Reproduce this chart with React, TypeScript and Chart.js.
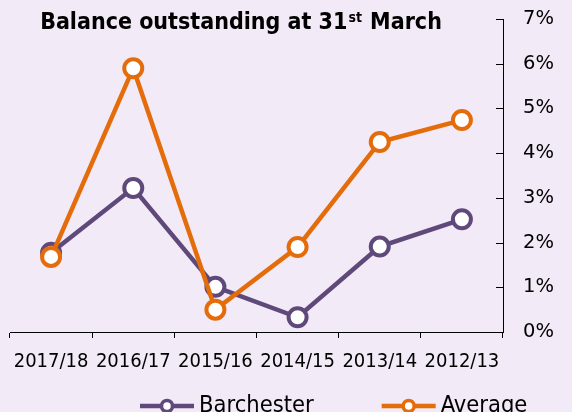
import React, { useEffect, useRef } from "react";
import { Chart, registerables } from "chart.js";

Chart.register(...registerables);

const categories = ["2017/18", "2016/17", "2015/16", "2014/15", "2013/14", "2012/13"];
const barchester = [1.77, 3.22, 1.01, 0.33, 1.91, 2.52];
const average = [1.68, 5.9, 0.5, 1.9, 4.25, 4.74];
const seriesNames = ["Barchester", "Average"];
const yMin = 0;
const yMax = 7;
const yStep = 1;
const titleMain = "Balance outstanding at 31";
const titleSup = "st";
const titleEnd = " March";

const PURPLE = "#5f497a";
const ORANGE = "#e46c0a";
const BG = "#f2eaf6";
const FONT = "'DejaVu Sans Condensed', 'DejaVu Sans', sans-serif";
const FONT_Y = "'DejaVu Sans', sans-serif";

const bgPlugin = {
  id: "bgFill",
  beforeDraw(chart: any) {
    const { ctx, width, height } = chart;
    ctx.save();
    ctx.fillStyle = BG;
    ctx.fillRect(0, 0, width, height);
    ctx.restore();
  },
};

const innerTicksPlugin = {
  id: "innerTicks",
  afterDraw(chart: any) {
    const y = chart.scales.y;
    const { ctx } = chart;
    ctx.save();
    ctx.strokeStyle = "#000";
    ctx.lineWidth = 1;
    y.ticks.forEach((t: any) => {
      const py = Math.round(y.getPixelForValue(t.value)) + 0.5;
      ctx.beginPath();
      ctx.moveTo(y.left - 7, py);
      ctx.lineTo(y.left, py);
      ctx.stroke();
    });
    ctx.restore();
  },
};

const titlePlugin = {
  id: "customTitle",
  afterDraw(chart: any) {
    const { ctx } = chart;
    ctx.save();
    const mainFont = `bold 23px ${FONT}`;
    const supFont = `bold 14px ${FONT}`;
    ctx.font = mainFont;
    const w1 = ctx.measureText(titleMain).width;
    const w3 = ctx.measureText(titleEnd).width;
    ctx.font = supFont;
    const w2 = ctx.measureText(titleSup).width + 1;
    const total = w1 + w2 + w3;
    const cx = 240.5;
    let x = cx - total / 2;
    const baseline = 29;
    ctx.fillStyle = "#000";
    ctx.textBaseline = "alphabetic";
    ctx.textAlign = "left";
    ctx.font = mainFont;
    ctx.fillText(titleMain, x, baseline);
    x += w1 + 1;
    ctx.font = supFont;
    ctx.fillText(titleSup, x, baseline - 7);
    x += w2;
    ctx.font = mainFont;
    ctx.fillText(titleEnd, x, baseline);
    ctx.restore();
  },
};

const legendPlugin = {
  id: "customLegend",
  afterDraw(chart: any) {
    const { ctx } = chart;
    const ds = chart.data.datasets;
    const order = [1, 0]; // Barchester first, then Average
    ctx.save();
    ctx.font = `23.5px ${FONT}`;
    ctx.textBaseline = "middle";
    ctx.textAlign = "left";
    const y = 406;
    let x = 140;
    const lineLen = 54;
    order.forEach((i) => {
      const d = ds[i];
      ctx.strokeStyle = d.borderColor;
      ctx.lineWidth = 4.5;
      ctx.beginPath();
      ctx.moveTo(x, y);
      ctx.lineTo(x + lineLen, y);
      ctx.stroke();
      ctx.beginPath();
      ctx.arc(x + lineLen / 2, y, 5.5, 0, Math.PI * 2);
      ctx.fillStyle = "#fff";
      ctx.fill();
      ctx.lineWidth = 3.5;
      ctx.stroke();
      ctx.fillStyle = "#000";
      ctx.fillText(d.label, x + lineLen + 5, y);
      const tw = ctx.measureText(d.label).width;
      x += lineLen + 5 + tw + 68;
    });
    ctx.restore();
  },
};

export default function App() {
  const ref = useRef<HTMLCanvasElement>(null);

  useEffect(() => {
    if (!ref.current) return;
    const chart = new Chart(ref.current, {
      type: "line",
      data: {
        labels: categories,
        datasets: [
          {
            label: seriesNames[1],
            data: average,
            borderColor: ORANGE,
            backgroundColor: ORANGE,
            borderWidth: 4.5,
            pointRadius: 9,
            pointHoverRadius: 9,
            pointBorderWidth: 4,
            pointBackgroundColor: "#fff",
            pointBorderColor: ORANGE,
            tension: 0,
            order: 0,
          },
          {
            label: seriesNames[0],
            data: barchester,
            borderColor: PURPLE,
            backgroundColor: PURPLE,
            borderWidth: 4.5,
            pointRadius: 9,
            pointHoverRadius: 9,
            pointBorderWidth: 4,
            pointBackgroundColor: "#fff",
            pointBorderColor: PURPLE,
            tension: 0,
            order: 1,
          },
        ],
      },
      options: {
        animation: false,
        responsive: false,
        maintainAspectRatio: false,
        layout: { autoPadding: false, padding: { left: 10, top: 19, right: 0, bottom: 40 } },
        plugins: {
          legend: { display: false },
          title: { display: false },
          tooltip: { enabled: false },
        },
        scales: {
          x: {
            type: "category",
            offset: true,
            grid: {
              offset: true,
              drawOnChartArea: false,
              drawTicks: true,
              tickLength: 6,
              color: "#000",
              lineWidth: 1,
            },
            border: { display: true, color: "#000", width: 1 },
            ticks: {
              color: "#000",
              font: { family: FONT, size: 20 },
              padding: 12,
              maxRotation: 0,
              autoSkip: false,
            },
            afterFit(scale: any) {
              scale.height = 40;
              scale.paddingLeft = 0;
              scale.paddingRight = 0;
            },
          },
          y: {
            position: "right",
            min: yMin,
            max: yMax,
            grid: { display: false, drawTicks: false },
            border: { display: true, color: "#000", width: 1 },
            ticks: {
              stepSize: yStep,
              color: "#000",
              padding: 20,
              font: { family: FONT_Y, size: 19.5 },
              callback: (v: any) => `${v}%`,
            },
            afterFit(scale: any) {
              scale.width = 69;
              scale.paddingTop = 0;
              scale.paddingBottom = 0;
            },
          },
        },
      },
      plugins: [bgPlugin, innerTicksPlugin, titlePlugin, legendPlugin],
    });
    return () => chart.destroy();
  }, []);

  return (
    <div style={{ position: "absolute", left: 0, top: 0, width: 572, height: 412, background: BG }}>
      <canvas ref={ref} width={572} height={412} style={{ display: "block", width: 572, height: 412 }} />
    </div>
  );
}
